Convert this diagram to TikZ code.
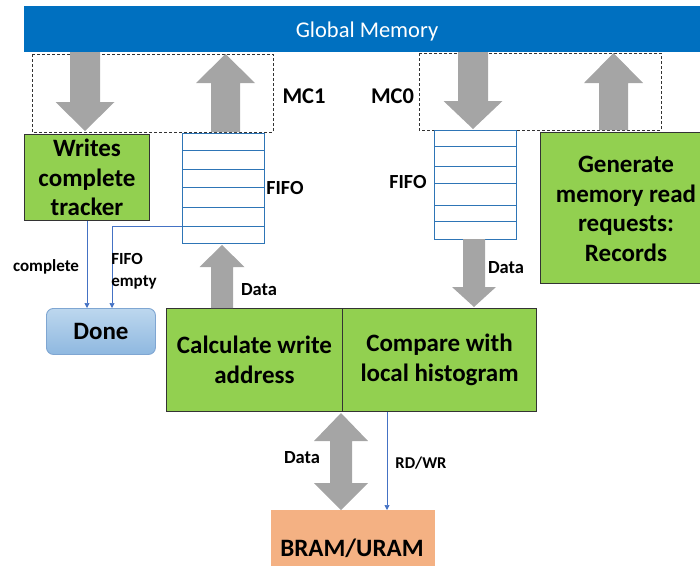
\documentclass[tikz,border=0pt]{standalone}
\usepackage{fontspec}
\setmainfont{Carlito}
\usetikzlibrary{arrows.meta}
\definecolor{gmblue}{HTML}{0070C0}
\definecolor{boxgreen}{HTML}{92D050}
\definecolor{arrgray}{HTML}{A5A5A5}
\definecolor{fifoblue}{HTML}{2E75B6}
\definecolor{wireblue}{HTML}{4472C4}
\definecolor{bramorange}{HTML}{F4B183}
\definecolor{donetop}{HTML}{BDD7EE}
\definecolor{donebot}{HTML}{8FB8E0}
\definecolor{doneedge}{HTML}{7FA6D2}
% vertical block arrow: x, y of tail, y of head base, y of tip, shaft half width, head half width
\newcommand\vblockarrow[6]{%
  \fill[arrgray] ({#1-#5},#2) -- ({#1-#5},#3) -- ({#1-#6},#3) -- (#1,#4)
    -- ({#1+#6},#3) -- ({#1+#5},#3) -- ({#1+#5},#2) -- cycle;}
\begin{document}
\begin{tikzpicture}[x=1pt,y=-1pt,
  stage/.style={draw=black!80, line width=1pt, fill=boxgreen, align=center,
    font=\fontsize{25}{29.5}\selectfont\bfseries, inner sep=0pt, anchor=north west},
  fifobox/.style={draw=fifoblue, line width=0.9pt, fill=white, inner sep=0pt,
    anchor=north west},
  mcbox/.style={draw=black!80, line width=0.9pt, dash pattern=on 3pt off 2pt},
  wire/.style={draw=wireblue, line width=0.7pt,
    -{Triangle[width=5pt,length=5pt]}},
  lbl/.style={font=\fontsize{#1}{#1}\selectfont\bfseries, inner sep=0pt},
  lbl/.default=16]
\useasboundingbox (0,0) rectangle (700,565);
\clip (0,0) rectangle (700,565);

% global memory bar
\node[fill=gmblue, minimum width=690pt, minimum height=46pt, inner sep=0pt,
  anchor=north west] (gm) at (24,6) {};
\node[text=white, font=\fontsize{22.5}{22.5}\selectfont, inner sep=0pt] (gmtext) at (367,31) {Global Memory};

% memory controller regions
\draw[mcbox] (32,54) rectangle (273,132);
\draw[mcbox] (419,53) rectangle (661,130);
\node[lbl=22.5] (mc1) at (304,96) {MC1};
\node[lbl=22.5] (mc0) at (392.5,96) {MC0};

% block arrows to and from global memory
\vblockarrow{85}{52}{102}{131}{15}{29.5}
\vblockarrow{225.5}{132}{83}{54}{14.5}{29.5}
\vblockarrow{473}{52}{101}{129}{15}{29.5}
\vblockarrow{613.5}{130}{83}{53}{14.5}{29.5}

% processing stages
\node[stage, minimum width=125pt, minimum height=86pt] (tracker) at (24,134)
  {Writes\\complete\\tracker};
\node[stage, minimum width=176pt, minimum height=103pt] (calc) at (166,308)
  {Calculate write\\address};
\node[stage, minimum width=194pt, minimum height=103pt] (compare) at (342,308)
  {Compare with\\local histogram};
\node[stage, minimum width=175pt, minimum height=151pt, text width=160pt,
  anchor=north west] (gen) at (540,132) {};
\node[font=\fontsize{25}{29.5}\selectfont\bfseries, align=center, inner sep=0pt]
  (gentext) at (626,209) {Generate\\memory read\\requests:\\Records};

% FIFOs
\node[fifobox, minimum width=82pt, minimum height=110pt] (fifoA) at (182,133) {};
\foreach \yy in {150,169,187,207,226}
  \draw[fifoblue, line width=0.9pt] (182,\yy) -- (264,\yy);
\node[fifobox, minimum width=82pt, minimum height=109pt] (fifoB) at (434,130) {};
\foreach \yy in {146,166,183,205,221}
  \draw[fifoblue, line width=0.9pt] (434,\yy) -- (516,\yy);
\node[lbl=20] (fifoAl) at (285,188) {FIFO};
\node[lbl=20] (fifoBl) at (408,182) {FIFO};

% data paths to and from the FIFOs
\vblockarrow{222}{308}{267}{245}{11}{22.5}
\node[lbl=18.5] (dA) at (259,290) {Data};
\vblockarrow{474}{239}{287}{307}{11}{22}
\node[lbl=18.5] (dB) at (506,268) {Data};

% done indicator
\node[draw=doneedge, line width=0.9pt, rounded corners=7pt,
  top color=donetop, bottom color=donebot, minimum width=109pt, minimum height=46pt,
  inner sep=0pt, anchor=north west, font=\fontsize{25}{25}\selectfont\bfseries]
  (done) at (46,308) {Done};

\coordinate (cx) at (87,0);
\coordinate (fx) at (112,0);
\coordinate (fe) at (182,226);
\draw[wire] (tracker.south -| cx) -- (cx |- done.north);
\draw[wire] (fe) -| (fx |- done.north);
\node[lbl=17] (complete) at (46,267) {complete};
\node[align=left, inner sep=0pt, font=\fontsize{17}{22}\selectfont\bfseries]
  (fempty) at (134,271) {FIFO\\empty};

% on-chip memory
\node[fill=bramorange, minimum width=164pt, minimum height=60pt, inner sep=0pt,
  anchor=north west] (bram) at (271,510) {};
\node[font=\fontsize{25}{25}\selectfont\bfseries, inner sep=0pt] (bramtext) at (352,548) {BRAM/URAM};

\fill[arrgray] (330,441) -- (314,441) -- (341,413) -- (368,441) -- (352,441)
  -- (352,483) -- (368,483) -- (341,510) -- (314,483) -- (330,483) -- cycle;
\node[lbl=18.5] (dC) at (302,458) {Data};

\coordinate (rx) at (387,0);
\draw[wire] (compare.south -| rx) -- (rx |- bram.north);
\node[lbl=16.5] (rdwr) at (421,463) {RD/WR};
\end{tikzpicture}
\end{document}
